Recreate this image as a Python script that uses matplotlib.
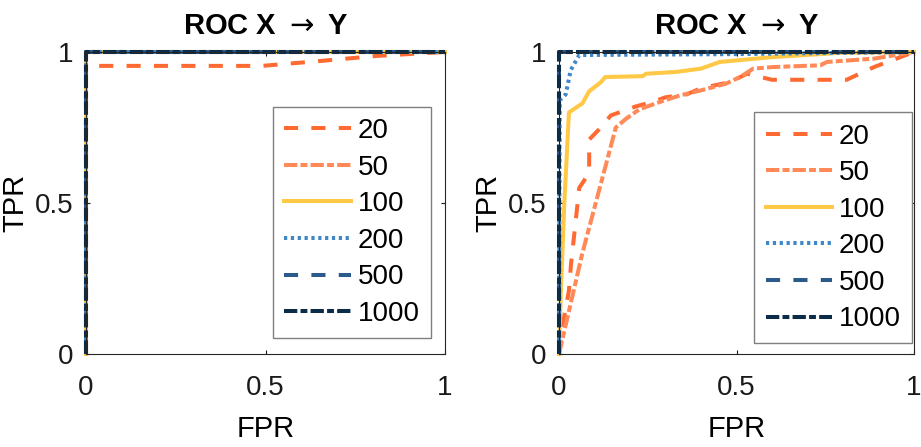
import matplotlib
matplotlib.use("Agg")
import matplotlib.pyplot as plt

plt.rcParams["font.family"] = ["Liberation Sans", "DejaVu Sans"]
plt.rcParams["mathtext.fontset"] = "dejavusans"

labels = ["20", "50", "100", "200", "500", "1000"]
colors = ["#FF6A32", "#FF8A58", "#FFC845", "#3F87C7", "#2B5A8B", "#0B2C48"]
dashes = [(3.5, 3.3), (3.3, 0.8, 1.7, 0.8), (), (0.8, 0.9), (3.5, 3.3), (3.3, 0.8, 1.7, 0.8)]

# left panel: FPR / TPR per sample size
left_fpr = [
    [0, 0, 0.49, 0.65, 0.81, 1],
    [0, 0, 1],
    [0, 0, 1],
    [0, 0, 1],
    [0, 0, 1],
    [0, 0, 1],
]
left_tpr = [
    [0, 0.954, 0.954, 0.97, 0.987, 1],
    [0, 1, 1],
    [0, 1, 1],
    [0, 1, 1],
    [0, 1, 1],
    [0, 1, 1],
]

# right panel
right_fpr = [
    [0, 0.014, 0.028, 0.034, 0.047, 0.057, 0.085, 0.085, 0.118, 0.146, 0.17, 0.217,
     0.264, 0.30, 0.36, 0.40, 0.48, 0.53, 0.60, 0.81, 0.887, 1],
    [0, 0.065, 0.16, 0.19, 0.226, 0.283, 0.34, 0.40, 0.47, 0.51, 0.547, 0.60,
     0.736, 0.755, 0.887, 1],
    [0, 0.005, 0.015, 0.028, 0.066, 0.085, 0.118, 0.13, 0.236, 0.245, 0.33, 0.40,
     0.453, 0.60, 0.79, 1],
    [0, 0.002, 0.019, 0.033, 0.057, 0.5, 1],
    [0, 0, 1],
    [0, 0, 1],
]
right_tpr = [
    [0, 0.12, 0.21, 0.30, 0.44, 0.55, 0.60, 0.71, 0.75, 0.79, 0.80, 0.82,
     0.835, 0.85, 0.86, 0.88, 0.90, 0.928, 0.908, 0.908, 0.95, 1],
    [0, 0.33, 0.75, 0.78, 0.81, 0.834, 0.856, 0.873, 0.895, 0.917, 0.945, 0.95,
     0.956, 0.967, 0.978, 1],
    [0, 0.2, 0.5, 0.80, 0.83, 0.87, 0.90, 0.917, 0.92, 0.928, 0.934, 0.945,
     0.967, 0.983, 0.997, 1],
    [0, 0.84, 0.86, 0.94, 0.99, 0.993, 1],
    [0, 1, 1],
    [0, 1, 1],
]

fig = plt.figure(figsize=(9.21, 4.47), dpi=100)
ax1 = fig.add_axes([86 / 921, 93 / 447, 359 / 921, 302 / 447])
ax2 = fig.add_axes([559 / 921, 93 / 447, 355 / 921, 302 / 447])

panels = [(ax1, left_fpr, left_tpr, (0.961, 0.053)), (ax2, right_fpr, right_tpr, (0.995, 0.035))]
for ax, fprs, tprs, anchor in panels:
    for fpr, tpr, lab, col, ds in zip(fprs, tprs, labels, colors, dashes):
        (ln,) = ax.plot(fpr, tpr, color=col, lw=2.9, label=lab, clip_on=False)
        if ds:
            ln.set_dashes(ds)
    ax.set_xlim(0, 1)
    ax.set_ylim(0, 1)
    ax.set_xticks([0, 0.5, 1])
    ax.set_yticks([0, 0.5, 1])
    ax.set_xticklabels(["0", "0.5", "1"])
    ax.set_yticklabels(["0", "0.5", "1"])
    ax.tick_params(direction="in", length=3, width=0.8, top=True, right=True,
                   labelsize=20, colors="#1a1a1a")
    ax.tick_params(axis="x", pad=15)
    ax.tick_params(axis="y", pad=9)
    for sp in ax.spines.values():
        sp.set_color("#262626")
        sp.set_linewidth(0.8)
    ax.set_xlabel("FPR", fontsize=21, labelpad=10)
    ax.set_ylabel("TPR", fontsize=21, labelpad=4)
    ax.set_title(r"ROC X $\rightarrow$ Y", fontsize=21, fontweight="bold", pad=13)
    leg = ax.legend(loc="lower right", bbox_to_anchor=anchor, borderaxespad=0,
                    fontsize=20, handlelength=2.4, handletextpad=0.25, labelspacing=0.38,
                    borderpad=0.4, fancybox=False, framealpha=1)
    leg.get_frame().set_edgecolor("#7f7f7f")
    leg.get_frame().set_linewidth(1.0)

fig.savefig("out.png", dpi=100)
